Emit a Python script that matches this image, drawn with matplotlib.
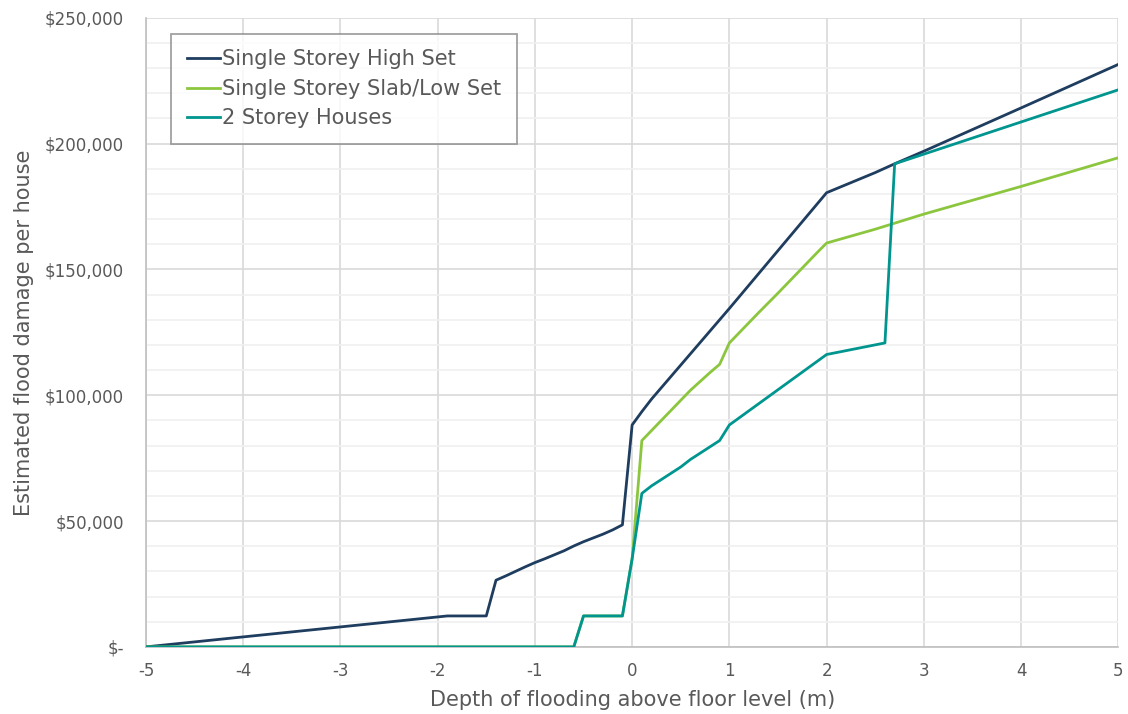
import matplotlib.pyplot as plt
from matplotlib.ticker import FuncFormatter, MultipleLocator

plt.rcParams['axes.unicode_minus'] = False

# Depth of flooding above floor level (m) and damage ($) per house type
high_x = [-5, -1.9, -1.5, -1.4, -1.3, -1.2, -1.1, -1.0, -0.9, -0.8, -0.7, -0.6, -0.5, -0.4,
          -0.3, -0.2, -0.1, 0.0, 0.1, 0.2, 0.3, 0.4, 0.5, 0.6, 0.7, 0.8, 0.9, 1.0, 1.1, 1.2,
          1.3, 1.4, 1.5, 1.6, 1.7, 1.8, 1.9, 2.0, 2.5, 2.7, 3, 4, 5]
high_y = [0, 12300, 12300, 26500, 28200, 30000, 31800, 33500, 35000, 36600, 38200, 40100,
          41800, 43300, 44800, 46500, 48500, 88200, 93500, 98500, 103000, 107500, 112000,
          116500, 121000, 125500, 130000, 134500, 139100, 143700, 148300, 152900, 157500,
          162100, 166700, 171300, 175900, 180500, 188500, 192000, 197000, 214200, 231500]

slab_x = [-5, -0.6, -0.5, -0.1, 0.0, 0.1, 0.2, 0.3, 0.4, 0.5, 0.6, 0.7, 0.8, 0.9, 1.0, 1.1,
          1.2, 1.3, 1.4, 1.5, 1.6, 1.7, 1.8, 1.9, 2.0, 2.5, 3, 4, 5]
slab_y = [0, 0, 12300, 12300, 35000, 82000, 86000, 90000, 94000, 98000, 102000, 105500,
          109000, 112300, 120800, 124800, 128800, 132800, 136700, 140600, 144600, 148600,
          152600, 156600, 160500, 166000, 172000, 183000, 194400]

two_x = [-5, -0.6, -0.5, -0.1, 0.0, 0.1, 0.2, 0.3, 0.4, 0.5, 0.6, 0.7, 0.8, 0.9, 1.0, 1.1,
         1.2, 1.3, 1.4, 1.5, 1.6, 1.7, 1.8, 1.9, 2.0, 2.6, 2.7, 5]
two_y = [0, 0, 12300, 12300, 35000, 61000, 64000, 66500, 69000, 71500, 74500, 77000,
         79500, 82000, 88200, 91000, 93800, 96600, 99400, 102200, 105000, 107800, 110600,
         113400, 116200, 120800, 192000, 221400]

labels = ['Single Storey High Set', 'Single Storey Slab/Low Set', '2 Storey Houses']
colors = ['#1f3d5f', '#8cc63e', '#00958f']

fig = plt.figure(figsize=(11.28, 7.14), dpi=100)
ax = fig.add_axes([0.1294, 0.094, 0.862, 0.881])

ax.plot(high_x, high_y, color=colors[0], lw=2, label=labels[0], zorder=3)
ax.plot(slab_x, slab_y, color=colors[1], lw=2, label=labels[1], zorder=3)
ax.plot(two_x, two_y, color=colors[2], lw=2, label=labels[2], zorder=4)

ax.set_xlim(-5, 5)
ax.set_ylim(0, 250000)
ax.xaxis.set_major_locator(MultipleLocator(1))
ax.yaxis.set_major_locator(MultipleLocator(50000))
ax.yaxis.set_minor_locator(MultipleLocator(10000))


def money(v, pos):
    if v == 0:
        return '$-'
    return '${:,.0f}'.format(v)


ax.yaxis.set_major_formatter(FuncFormatter(money))
ax.grid(True, which='major', color='#d9d9d9', lw=1.2, zorder=0)
ax.grid(True, which='minor', axis='y', color='#f0f0f0', lw=1.2, zorder=0)
ax.set_axisbelow(True)
ax.tick_params(which='both', length=0, labelsize=12, colors='#595959')
ax.tick_params(axis='y', pad=16)
ax.tick_params(axis='x', pad=11)
for s in ['top', 'right']:
    ax.spines[s].set_visible(False)
for s in ['left', 'bottom']:
    ax.spines[s].set_color('#bfbfbf')
    ax.spines[s].set_linewidth(1.2)

ax.set_xlabel('Depth of flooding above floor level (m)', fontsize=15, color='#595959', labelpad=7)
ax.set_ylabel('Estimated flood damage per house', fontsize=15, color='#595959', labelpad=8)

leg = ax.legend(loc='upper left', bbox_to_anchor=(0.0257, 0.9746), borderaxespad=0,
                fontsize=15, frameon=True, fancybox=False, handlelength=1.6,
                handletextpad=0.1, borderpad=0.75, labelspacing=0.45, labelcolor='#595959')
leg.get_frame().set_edgecolor('#808080')
leg.get_frame().set_linewidth(1.2)

fig.savefig('out.png', dpi=100)
